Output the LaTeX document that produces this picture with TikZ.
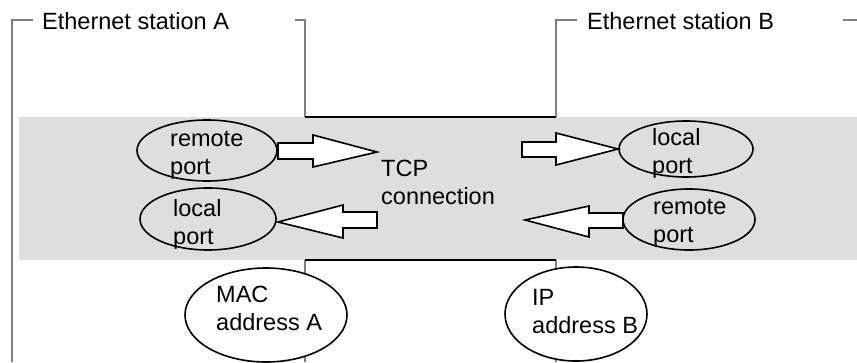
\documentclass[tikz,border=0pt]{standalone}
\usepackage{fontspec}
\setmainfont{Liberation Sans}
\usetikzlibrary{shapes.geometric}
\begin{document}
\begin{tikzpicture}[x=1pt,y=-1pt,
  frameline/.style={draw=black!50,line width=1.3pt},
  boldline/.style={draw=black,line width=1.8pt},
  portell/.style={draw=black,line width=1.6pt,ellipse,inner sep=0pt},
  addrell/.style={portell,fill=white},
  blockarrow/.style={draw=black,fill=white,line width=1.6pt,line join=miter},
  lbl/.style={inner sep=0pt,anchor=base west,align=left,font=\fontsize{23.5}{28}\selectfont}]
\useasboundingbox (0,0) rectangle (857,362);
% band
\fill[black!13] (19,117) rectangle (857,260);
% station frames
\draw[frameline] (33,20) -- (12,20) -- (12,362);
\draw[frameline] (295,20) -- (305,20) -- (305,117);
\draw[frameline] (577,20) -- (556,20) -- (556,117);
\draw[frameline] (843,20) -- (857,20);
\draw[frameline] (305,260) -- (305,362);
\draw[frameline] (556,260) -- (556,362);
\draw[boldline] (305,117) -- (556,117);
\draw[boldline] (305,260) -- (556,260);
\node[lbl] (stA) at (42,29) {Ethernet station A};
\node[lbl] (stB) at (587,29) {Ethernet station B};
% arrows
\draw[blockarrow] (278,143) -- (313,143) -- (313,135) -- (377,152) -- (313,167) -- (313,159) -- (278,159) -- cycle;
\draw[blockarrow] (377,212) -- (343,212) -- (343,205) -- (278,222) -- (343,238) -- (343,228) -- (377,228) -- cycle;
\draw[blockarrow] (522,142) -- (556,142) -- (556,133) -- (618,149) -- (556,165) -- (556,157) -- (522,157) -- cycle;
\draw[blockarrow] (623,213) -- (589,213) -- (589,206) -- (525,220) -- (589,237) -- (589,228) -- (623,228) -- cycle;
% ellipses
\node[portell,minimum width=140pt,minimum height=61pt] (remA) at (207,150.5) {};
\node[portell,minimum width=136pt,minimum height=62pt] (locA) at (208,219) {};
\node[portell,minimum width=134pt,minimum height=56pt] (locB) at (686,149) {};
\node[portell,minimum width=132pt,minimum height=61pt] (remB) at (689,219.5) {};
\node[addrell,minimum width=162pt,minimum height=94pt] (mac) at (266,315) {};
\node[addrell,minimum width=142pt,minimum height=94pt] (ip) at (576,314) {};
% texts (anchor = baseline of last line)
\node[lbl] (tremA) at (170,174) {remote\\port};
\node[lbl] (tlocA) at (173,244) {local\\port};
\node[lbl] (tlocB) at (652,173) {local\\port};
\node[lbl] (tremB) at (653,242) {remote\\port};
\node[lbl] (ttcp) at (381,204) {TCP\\connection};
\node[lbl] (tmac) at (216,330) {MAC\\address A};
\node[lbl] (tip) at (532,333) {IP\\address B};
\end{tikzpicture}
\end{document}
